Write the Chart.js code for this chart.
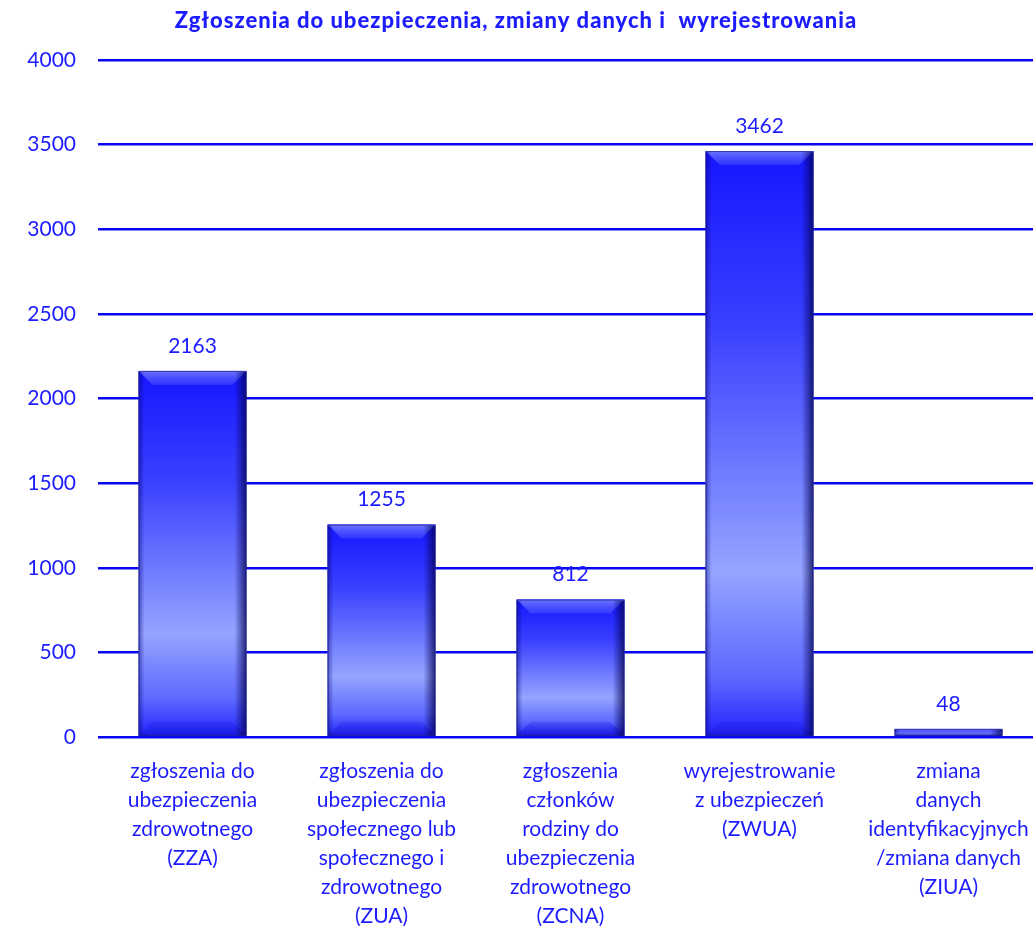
<!DOCTYPE html>
<html>
<head>
<meta charset="utf-8">
<script src="https://cdn.jsdelivr.net/npm/chart.js@4/dist/chart.umd.min.js"></script>
<style>
  html, body { margin: 0; padding: 0; background: #fff; overflow: hidden; }
  #wrap { width: 1043px; height: 928px; }
</style>
</head>
<body>
<div id="wrap"><canvas id="zgl"></canvas></div>
<script>
const chartTitle = "Zgłoszenia do ubezpieczenia, zmiany danych i  wyrejestrowania";
const categories = [
  ["zgłoszenia do", "ubezpieczenia", "zdrowotnego", "(ZZA)"],
  ["zgłoszenia do", "ubezpieczenia", "społecznego lub", "społecznego i", "zdrowotnego", "(ZUA)"],
  ["zgłoszenia", "członków", "rodziny do", "ubezpieczenia", "zdrowotnego", "(ZCNA)"],
  ["wyrejestrowanie", "z ubezpieczeń", "(ZWUA)"],
  ["zmiana", "danych", "identyfikacyjnych", "/zmiana danych", "(ZIUA)"]
];
const counts = [2163, 1255, 812, 3462, 48];
const yTicks = [0, 500, 1000, 1500, 2000, 2500, 3000, 3500, 4000];

const BLUE = "#1c1cff";
const FONT = "Lato, 'Open Sans', sans-serif";

// glossy bevelled bars, drawn over each bar element
const bevelBars = {
  id: "bevelBars",
  afterDatasetsDraw(chart) {
    const ctx = chart.ctx;
    chart.getDatasetMeta(0).data.forEach((bar, i) => {
      const x0 = bar.x - bar.width / 2, x1 = bar.x + bar.width / 2;
      const y0 = bar.y, y1 = bar.base;
      const h = y1 - y0, w = x1 - x0;
      const b = Math.min(14, h / 2);
      ctx.save();
      const g = ctx.createLinearGradient(0, y0, 0, y1);
      g.addColorStop(0, "#1616ff");
      g.addColorStop(0.3, "#3a40ff");
      g.addColorStop(0.72, "#95a4ff");
      g.addColorStop(0.9, "#5d68ff");
      g.addColorStop(1, "#2424ff");
      ctx.fillStyle = g;
      ctx.fillRect(x0, y0, w, h);
      // top bevel
      ctx.beginPath();
      ctx.moveTo(x0, y0); ctx.lineTo(x1, y0);
      ctx.lineTo(x1 - b, y0 + b); ctx.lineTo(x0 + b, y0 + b); ctx.closePath();
      const gt = ctx.createLinearGradient(0, y0, 0, y0 + b);
      gt.addColorStop(0, "rgba(140,150,255,0.75)");
      gt.addColorStop(1, "rgba(90,100,255,0.35)");
      ctx.fillStyle = gt; ctx.fill();
      // bottom bevel
      ctx.beginPath();
      ctx.moveTo(x0, y1); ctx.lineTo(x1, y1);
      ctx.lineTo(x1 - b, y1 - b); ctx.lineTo(x0 + b, y1 - b); ctx.closePath();
      const gb = ctx.createLinearGradient(0, y1 - b, 0, y1);
      gb.addColorStop(0, "rgba(30,30,230,0.25)");
      gb.addColorStop(1, "rgba(20,20,200,0.6)");
      ctx.fillStyle = gb; ctx.fill();
      // right shadow
      const gr = ctx.createLinearGradient(x1 - 12, 0, x1, 0);
      gr.addColorStop(0, "rgba(0,0,90,0)");
      gr.addColorStop(1, "rgba(0,0,70,0.75)");
      ctx.fillStyle = gr;
      ctx.fillRect(x1 - 12, y0 + 1, 12, h - 1);
      // left shade
      const gl = ctx.createLinearGradient(x0, 0, x0 + 6, 0);
      gl.addColorStop(0, "rgba(0,0,120,0.45)");
      gl.addColorStop(1, "rgba(0,0,120,0)");
      ctx.fillStyle = gl;
      ctx.fillRect(x0, y0 + 1, 6, h - 1);
      ctx.strokeStyle = "rgba(30,30,130,0.7)";
      ctx.lineWidth = 1;
      ctx.strokeRect(x0 + 0.5, y0 + 0.5, w - 1, h - 1);
      // value label
      ctx.fillStyle = BLUE;
      ctx.font = "21px " + FONT;
      ctx.textAlign = "center";
      ctx.textBaseline = "middle";
      ctx.fillText(String(counts[i]), bar.x, y0 - 25);
      ctx.restore();
    });
  }
};

// title drawn by hand so it can be centred on the visible window and letter-spaced
const titlePlugin = {
  id: "titleText",
  afterDraw(chart) {
    const ctx = chart.ctx;
    ctx.save();
    ctx.fillStyle = BLUE;
    ctx.font = "900 22px " + FONT;
    ctx.letterSpacing = "1px";
    ctx.textAlign = "center";
    ctx.textBaseline = "middle";
    ctx.fillText(chartTitle, 516, 21);
    ctx.restore();
  }
};

new Chart(document.getElementById("zgl"), {
  type: "bar",
  data: {
    labels: categories,
    datasets: [{
      data: counts,
      backgroundColor: "#2a2aff",
      barPercentage: 0.57,
      categoryPercentage: 1
    }]
  },
  options: {
    responsive: true,
    maintainAspectRatio: false,
    animation: false,
    layout: { padding: { top: 60 } },
    plugins: {
      legend: { display: false },
      tooltip: { enabled: false },
      title: { display: false }
    },
    scales: {
      x: {
        grid: { display: false },
        border: { display: false },
        ticks: {
          color: BLUE,
          font: { family: FONT, size: 21, lineHeight: 1.38 },
          padding: 12,
          maxRotation: 0,
          autoSkip: false
        },
        afterFit(s) { s.height = 191; }
      },
      y: {
        min: 0,
        max: 4000,
        afterBuildTicks(s) { s.ticks = yTicks.map(v => ({ value: v })); },
        grid: { color: "#0808f0", lineWidth: 2.4, drawTicks: false },
        border: { display: false },
        ticks: {
          color: BLUE,
          font: { family: FONT, size: 21 },
          padding: 22,
          callback: v => String(v)
        },
        afterFit(s) { s.width = 98; }
      }
    }
  },
  plugins: [bevelBars, titlePlugin]
});
</script>
</body>
</html>
